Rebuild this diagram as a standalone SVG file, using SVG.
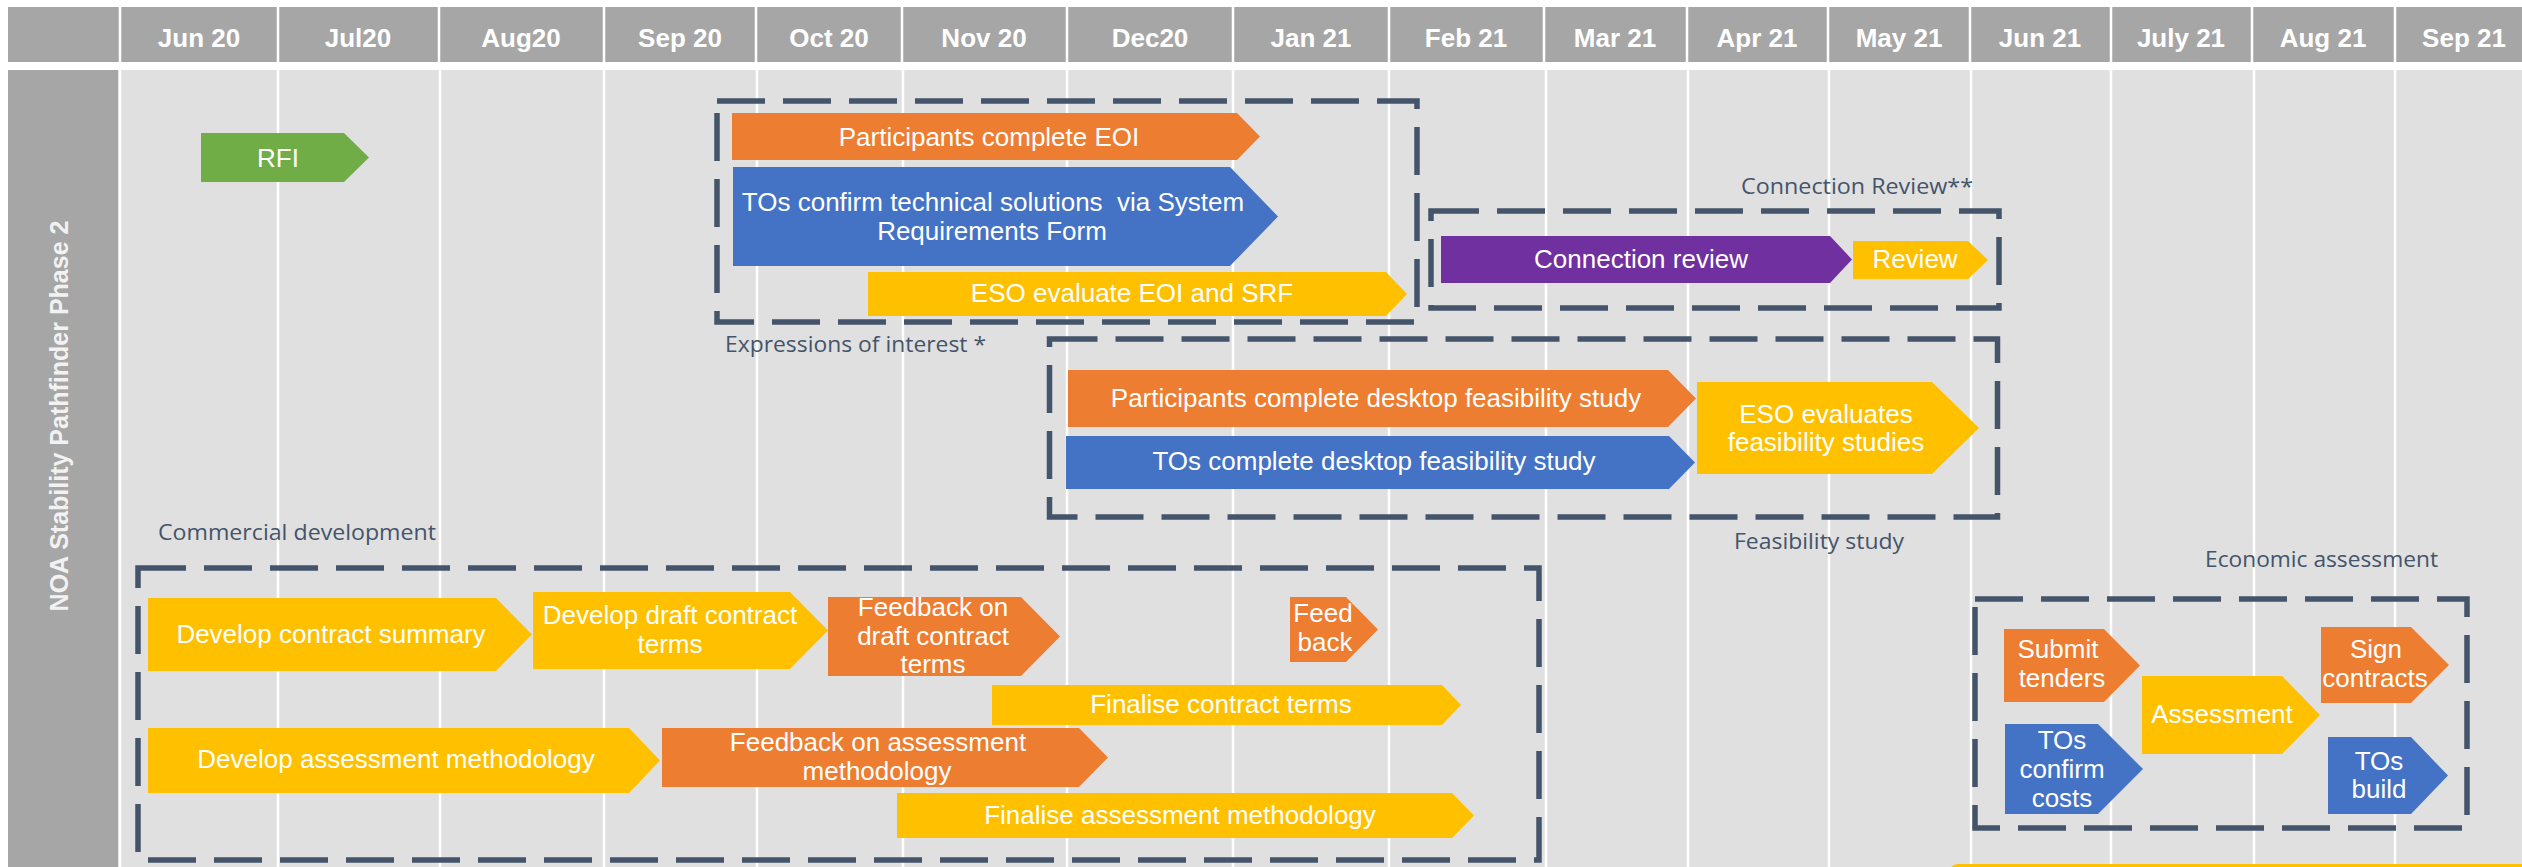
<svg xmlns="http://www.w3.org/2000/svg" width="2522" height="867" viewBox="0 0 2522 867">
<style>
.hdr{fill:#a6a6a6}
.body{fill:#e0e0e0}
.sep{stroke:#ffffff;stroke-width:2.5}
.ht{font-family:"Liberation Sans",Arial,sans-serif;font-weight:bold;font-size:26px;fill:#ffffff;text-anchor:middle}
.title{font-family:"Liberation Sans",Arial,sans-serif;font-weight:bold;font-size:25px;fill:#f2f2f2;text-anchor:middle}
.t{font-family:"Liberation Sans",Arial,sans-serif;font-size:26px;fill:#ffffff;text-anchor:middle}
.cap{font-family:"Open Sans","Liberation Sans",sans-serif;font-size:22px;fill:#44546a}
.box{fill:none;stroke:#44546a;stroke-width:5.5;stroke-dasharray:48 18}
.or{fill:#ed7d31}
.bl{fill:#4472c4}
.ye{fill:#ffc000}
.gr{fill:#70ad47}
.pu{fill:#7030a0}
</style>
<rect x="0" y="0" width="2522" height="867" fill="#ffffff"/>
<g id="header">
<rect class="hdr" x="8" y="7" width="2514" height="55"/>
<g class="sep">
<line x1="120" y1="7" x2="120" y2="62"/><line x1="278" y1="7" x2="278" y2="62"/><line x1="439" y1="7" x2="439" y2="62"/><line x1="604" y1="7" x2="604" y2="62"/><line x1="756" y1="7" x2="756" y2="62"/><line x1="902" y1="7" x2="902" y2="62"/><line x1="1067" y1="7" x2="1067" y2="62"/><line x1="1233" y1="7" x2="1233" y2="62"/><line x1="1389" y1="7" x2="1389" y2="62"/><line x1="1544" y1="7" x2="1544" y2="62"/><line x1="1687" y1="7" x2="1687" y2="62"/><line x1="1828" y1="7" x2="1828" y2="62"/><line x1="1970" y1="7" x2="1970" y2="62"/><line x1="2111" y1="7" x2="2111" y2="62"/><line x1="2252" y1="7" x2="2252" y2="62"/><line x1="2395" y1="7" x2="2395" y2="62"/>
</g>
<text class="ht" x="199" y="47">Jun 20</text>
<text class="ht" x="358" y="47">Jul20</text>
<text class="ht" x="521" y="47">Aug20</text>
<text class="ht" x="680" y="47">Sep 20</text>
<text class="ht" x="829" y="47">Oct 20</text>
<text class="ht" x="984" y="47">Nov 20</text>
<text class="ht" x="1150" y="47">Dec20</text>
<text class="ht" x="1311" y="47">Jan 21</text>
<text class="ht" x="1466" y="47">Feb 21</text>
<text class="ht" x="1615" y="47">Mar 21</text>
<text class="ht" x="1757" y="47">Apr 21</text>
<text class="ht" x="1899" y="47">May 21</text>
<text class="ht" x="2040" y="47">Jun 21</text>
<text class="ht" x="2181" y="47">July 21</text>
<text class="ht" x="2323" y="47">Aug 21</text>
<text class="ht" x="2464" y="47">Sep 21</text>
</g>
<g id="grid">
<rect class="body" x="118" y="70" width="2404" height="797"/>
<rect class="hdr" x="8" y="70" width="110" height="797"/>
<g class="sep">
<line x1="120" y1="70" x2="120" y2="867"/><line x1="278" y1="70" x2="278" y2="867"/><line x1="440" y1="70" x2="440" y2="867"/><line x1="604" y1="70" x2="604" y2="867"/><line x1="757" y1="70" x2="757" y2="867"/><line x1="903" y1="70" x2="903" y2="867"/><line x1="1067" y1="70" x2="1067" y2="867"/><line x1="1233" y1="70" x2="1233" y2="867"/><line x1="1389" y1="70" x2="1389" y2="867"/><line x1="1546" y1="70" x2="1546" y2="867"/><line x1="1688" y1="70" x2="1688" y2="867"/><line x1="1829" y1="70" x2="1829" y2="867"/><line x1="1971" y1="70" x2="1971" y2="867"/><line x1="2111" y1="70" x2="2111" y2="867"/><line x1="2254" y1="70" x2="2254" y2="867"/><line x1="2395" y1="70" x2="2395" y2="867"/>
</g>
<text class="title" transform="translate(68,416) rotate(-90)">NOA Stability Pathfinder Phase 2</text>
</g>
<g id="connectors">
<rect class="box" x="717" y="101" width="700" height="221"/>
<rect class="box" x="1431" y="211" width="568" height="97"/>
<rect class="box" x="1049.5" y="339" width="948" height="178"/>
<rect class="box" x="138" y="568" width="1401" height="292"/>
<rect class="box" x="1975" y="599" width="492" height="229"/>
</g>
<g id="captions">
<text class="cap" x="725" y="352" textLength="261" lengthAdjust="spacingAndGlyphs">Expressions of interest *</text>
<text class="cap" x="1741" y="194" textLength="232" lengthAdjust="spacingAndGlyphs">Connection Review**</text>
<text class="cap" x="1734" y="549" textLength="170" lengthAdjust="spacingAndGlyphs">Feasibility study</text>
<text class="cap" x="158" y="540" textLength="278" lengthAdjust="spacingAndGlyphs">Commercial development</text>
<text class="cap" x="2205" y="567" textLength="233" lengthAdjust="spacingAndGlyphs">Economic assessment</text>
</g>
<g id="rfi"><polygon class="gr" points="201,133 344,133 369,157.5 344,182 201,182"/><text class="t" x="278" y="167">RFI</text></g>
<g id="eoi"><polygon class="or" points="732,113 1237,113 1260,136.5 1237,160 732,160"/><text class="t" x="989" y="146">Participants complete EOI</text></g>
<g id="tos-confirm"><polygon class="bl" points="733,167 1230,167 1278,216.5 1230,266 733,266"/><text class="t" x="993" y="211" style="white-space:pre">TOs confirm technical solutions  via System</text><text class="t" x="992" y="240">Requirements Form</text></g>
<g id="eso-eval-eoi"><polygon class="ye" points="868,272 1386,272 1407,294 1386,316 868,316"/><text class="t" x="1132" y="302">ESO evaluate EOI and SRF</text></g>
<g id="connection-review"><polygon class="pu" points="1441,236 1830,236 1852,259.5 1830,283 1441,283"/><text class="t" x="1641" y="268">Connection review</text></g>
<g id="review"><polygon class="ye" points="1853,241 1968,241 1988,260 1968,279 1853,279"/><text class="t" x="1915" y="268">Review</text></g>
<g id="part-desktop"><polygon class="or" points="1068,370 1668,370 1696,398.5 1668,427 1068,427"/><text class="t" x="1376" y="407">Participants complete desktop feasibility study</text></g>
<g id="tos-desktop"><polygon class="bl" points="1066,436 1669,436 1695,462.5 1669,489 1066,489"/><text class="t" x="1374" y="470">TOs complete desktop feasibility study</text></g>
<g id="eso-feas"><polygon class="ye" points="1697,382 1932,382 1979,428 1932,474 1697,474"/><text class="t" x="1826" y="423">ESO evaluates</text><text class="t" x="1826" y="451">feasibility studies</text></g>
<g id="dev-summary"><polygon class="ye" points="148,598 496,598 532,634.5 496,671 148,671"/><text class="t" x="331" y="643">Develop contract summary</text></g>
<g id="dev-draft"><polygon class="ye" points="533,592 790,592 828,630.5 790,669 533,669"/><text class="t" x="670" y="624">Develop draft contract</text><text class="t" x="670" y="653">terms</text></g>
<g id="fb-draft"><polygon class="or" points="828,597 1021,597 1060,636.5 1021,676 828,676"/><text class="t" x="933" y="616">Feedback on</text><text class="t" x="933" y="645">draft contract</text><text class="t" x="933" y="673">terms</text></g>
<g id="feed-back"><polygon class="or" points="1290,597 1346,597 1378,629.5 1346,662 1290,662"/><text class="t" x="1323" y="622">Feed</text><text class="t" x="1325" y="651">back</text></g>
<g id="fin-contract"><polygon class="ye" points="992,685 1442,685 1461,705 1442,725 992,725"/><text class="t" x="1221" y="713">Finalise contract terms</text></g>
<g id="dev-assess"><polygon class="ye" points="148,728 629,728 660,760.5 629,793 148,793"/><text class="t" x="396" y="768">Develop assessment methodology</text></g>
<g id="fb-assess"><polygon class="or" points="662,728 1079,728 1108,757.5 1079,787 662,787"/><text class="t" x="878" y="751">Feedback on assessment</text><text class="t" x="877" y="780">methodology</text></g>
<g id="fin-assess"><polygon class="ye" points="897,793 1452,793 1474,815.5 1452,838 897,838"/><text class="t" x="1180" y="824">Finalise assessment methodology</text></g>
<g id="submit"><polygon class="or" points="2004,629 2104,629 2140,665.5 2104,702 2004,702"/><text class="t" x="2058" y="658">Submit</text><text class="t" x="2062" y="687">tenders</text></g>
<g id="tos-costs"><polygon class="bl" points="2005,724 2098,724 2143,769 2098,814 2005,814"/><text class="t" x="2062" y="749">TOs</text><text class="t" x="2062" y="778">confirm</text><text class="t" x="2062" y="807">costs</text></g>
<g id="assessment"><polygon class="ye" points="2142,676 2282,676 2320,715 2282,754 2142,754"/><text class="t" x="2222" y="723">Assessment</text></g>
<g id="sign"><polygon class="or" points="2321,627 2411,627 2449,665 2411,703 2321,703"/><text class="t" x="2376" y="658">Sign</text><text class="t" x="2375" y="687">contracts</text></g>
<g id="tos-build"><polygon class="bl" points="2328,737 2411,737 2448,775.5 2411,814 2328,814"/><text class="t" x="2379" y="770">TOs</text><text class="t" x="2379" y="798">build</text></g>
<g id="bottom-bar"><rect class="ye" x="1950" y="864" width="600" height="20" rx="8"/></g>
</svg>
